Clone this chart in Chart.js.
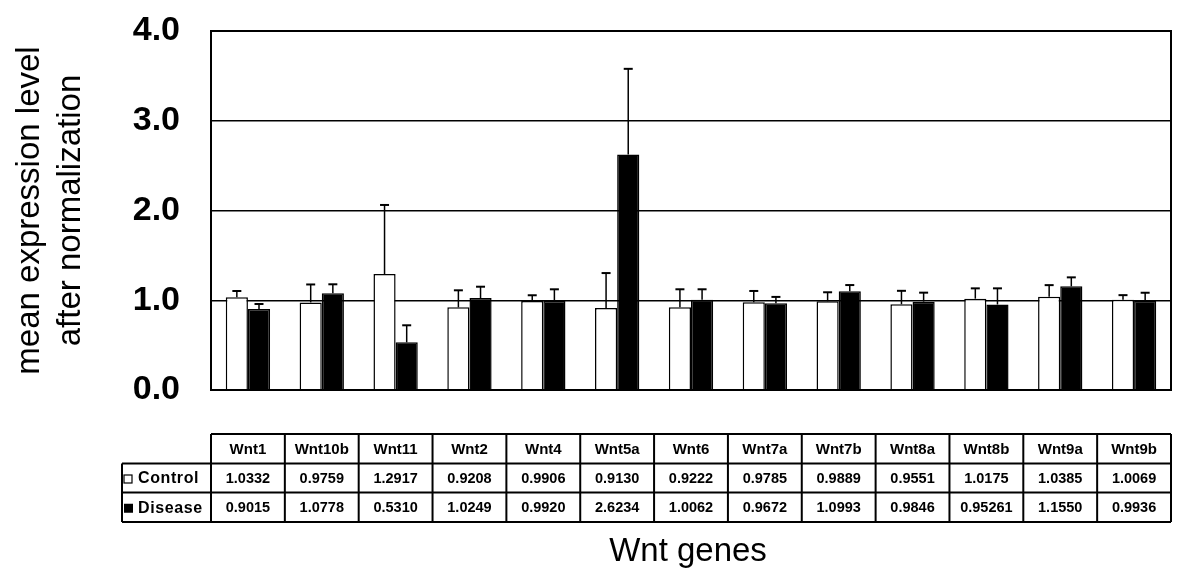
<!DOCTYPE html>
<html>
<head>
<meta charset="utf-8">
<script src="https://cdn.jsdelivr.net/npm/chart.js@4"></script>
<style>
  html, body { margin: 0; padding: 0; background: #fff; }
  #wrap { width: 1200px; height: 581px; }
</style>
</head>
<body>
<div id="wrap"><canvas id="wntChart" width="1200" height="581"></canvas></div>
<script>
const genes = ["Wnt1", "Wnt10b", "Wnt11", "Wnt2", "Wnt4", "Wnt5a", "Wnt6", "Wnt7a", "Wnt7b", "Wnt8a", "Wnt8b", "Wnt9a", "Wnt9b"]
const control = [1.0332, 0.9759, 1.2917, 0.9208, 0.9906, 0.9130, 0.9222, 0.9785, 0.9889, 0.9551, 1.0175, 1.0385, 1.0069]
const disease = [0.9015, 1.0778, 0.5310, 1.0249, 0.9920, 2.6234, 1.0062, 0.9672, 1.0993, 0.9846, 0.95261, 1.1550, 0.9936]
const controlErr = [0.07, 0.20, 0.77, 0.19, 0.065, 0.39, 0.20, 0.125, 0.10, 0.15, 0.115, 0.13, 0.05]
const diseaseErr = [0.057, 0.10, 0.19, 0.126, 0.13, 0.955, 0.116, 0.07, 0.07, 0.10, 0.18, 0.10, 0.09]
const yTicks = [0, 1, 2, 3, 4]
const xTitle = "Wnt genes"

const FONT = "'Liberation Sans', Arial, sans-serif"

// show at least 4 decimals, like the table in the figure
function fmt(v) {
    let s = String(v)
    if (s.indexOf(".") < 0) s += "."
    while (s.split(".")[1].length < 4) s += "0"
    return s
}

// upper error bars with caps
const errorBars = {
    id: "errorBars",
    afterDatasetsDraw(chart) {
        const ctx = chart.ctx
        const y = chart.scales.y
        const errs = [controlErr, diseaseErr]
        ctx.save()
        ctx.strokeStyle = "#000"
        errs.forEach((err, d) => {
            const meta = chart.getDatasetMeta(d)
            meta.data.forEach((bar, i) => {
                const v = chart.data.datasets[d].data[i]
                const top = y.getPixelForValue(v + err[i])
                ctx.lineWidth = 1.5
                ctx.beginPath()
                ctx.moveTo(bar.x, bar.y)
                ctx.lineTo(bar.x, top)
                ctx.stroke()
                ctx.lineWidth = 2
                ctx.beginPath()
                ctx.moveTo(bar.x - 4.5, top)
                ctx.lineTo(bar.x + 4.5, top)
                ctx.stroke()
            })
        })
        ctx.restore()
    }
}

// frame of the plot, the data table below it and the x title
const dataTable = {
    id: "dataTable",
    afterDraw(chart) {
        const ctx = chart.ctx
        const area = chart.chartArea
        const x = chart.scales.x
        const colW = area.width / genes.length
        const rows = [434, 463.5, 492.5, 522]
        const labelLeft = 122

        ctx.save()
        ctx.strokeStyle = "#000"
        ctx.lineWidth = 2
        ctx.strokeRect(area.left, area.top, area.width, area.height)

        // grid lines of the table
        ctx.beginPath()
        ctx.moveTo(area.left, rows[0]); ctx.lineTo(area.right, rows[0])
        ctx.moveTo(labelLeft, rows[1]); ctx.lineTo(area.right, rows[1])
        ctx.moveTo(labelLeft, rows[2]); ctx.lineTo(area.right, rows[2])
        ctx.moveTo(labelLeft, rows[3]); ctx.lineTo(area.right, rows[3])
        ctx.moveTo(labelLeft, rows[1]); ctx.lineTo(labelLeft, rows[3])
        for (let i = 0; i <= genes.length; i++) {
            const cx = area.left + i * colW
            ctx.moveTo(cx, rows[0]); ctx.lineTo(cx, rows[3])
        }
        ctx.stroke()

        ctx.fillStyle = "#000"
        ctx.textAlign = "center"
        ctx.textBaseline = "middle"
        genes.forEach((g, i) => {
            const cx = x.getPixelForValue(i)
            ctx.font = "bold 15px " + FONT
            ctx.fillText(g, cx, (rows[0] + rows[1]) / 2 + 1)
            ctx.font = "bold 14.5px " + FONT
            ctx.fillText(fmt(control[i]), cx, (rows[1] + rows[2]) / 2 + 1)
            ctx.fillText(fmt(disease[i]), cx, (rows[2] + rows[3]) / 2 + 1)
        })

        // row labels with legend keys
        ctx.textAlign = "left"
        ctx.font = "bold 16px " + FONT
        ctx.letterSpacing = "0.6px"
        const names = chart.data.datasets.map(ds => ds.label)
        names.forEach((n, r) => {
            const cy = (rows[r + 1] + rows[r + 2]) / 2 + 1
            ctx.lineWidth = 1.2
            if (r === 0) {
                ctx.strokeRect(124, cy - 4, 8, 8)
            } else {
                ctx.fillRect(124, cy - 4.5, 9, 9)
            }
            ctx.fillText(n, 138, cy)
        })
        ctx.letterSpacing = "0px"

        ctx.textAlign = "center"
        ctx.font = "33px " + FONT
        ctx.fillText(xTitle, (area.left + area.right) / 2 - 3, 552)
        ctx.restore()
    }
}

new Chart(document.getElementById("wntChart"), {
    type: "bar",
    data: {
        labels: genes,
        datasets: [
            {
                label: "Control",
                data: control,
                backgroundColor: "#fff",
                borderColor: "#000",
                borderWidth: 1.5,
                categoryPercentage: 0.6,
                barPercentage: 1.0
            },
            {
                label: "Disease",
                data: disease,
                backgroundColor: "#000",
                borderColor: "#000",
                borderWidth: 1.5,
                categoryPercentage: 0.6,
                barPercentage: 1.0
            }
        ]
    },
    options: {
        responsive: false,
        animation: false,
        layout: {
            padding: { top: 31, right: 29, bottom: 191, left: 0 }
        },
        plugins: {
            legend: { display: false },
            tooltip: { enabled: false }
        },
        scales: {
            x: {
                grid: { display: false, drawTicks: false },
                ticks: { display: false },
                border: { display: true, color: "#000", width: 2 }
            },
            y: {
                min: 0,
                max: 4,
                afterFit: function(scale) {
                    scale.width = 211
                    scale.paddingTop = 0
                    scale.paddingBottom = 0
                },
                afterBuildTicks: function(scale) {
                    scale.ticks = yTicks.map(v => ({ value: v }))
                },
                grid: { color: "#000", lineWidth: 1.5, drawTicks: false },
                border: { display: true, color: "#000", width: 2 },
                ticks: {
                    color: "#000",
                    padding: 31,
                    font: { family: FONT, size: 34, weight: "bold" },
                    callback: v => v.toFixed(1)
                },
                title: {
                    display: true,
                    text: ["mean expression level", "after normalization"],
                    color: "#000",
                    font: { family: FONT, size: 33, weight: "normal", lineHeight: 1.25 },
                    padding: { top: 9, bottom: 0 }
                }
            }
        }
    },
    plugins: [errorBars, dataTable]
})
</script>
</body>
</html>
